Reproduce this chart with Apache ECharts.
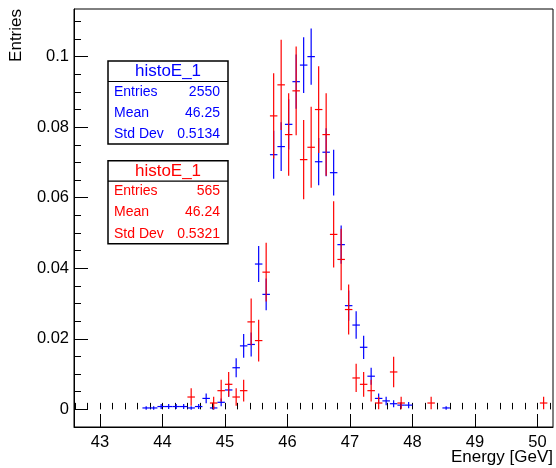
<!DOCTYPE html>
<html>
<head>
<meta charset="utf-8">
<script src="https://cdn.jsdelivr.net/npm/echarts@6/dist/echarts.min.js"></script>
<style>
html,body{margin:0;padding:0;background:#fff;}
#chart{width:556px;height:468px;}
</style>
</head>
<body>
<div id="chart"></div>
<script>
// ---- data ----
const blueE = [43.74,43.86,43.98,44.10,44.22,44.34,44.46,44.58,44.70,44.82,44.94,45.06,45.18,45.30,45.42,45.54,45.66,45.78,45.90,46.02,46.14,46.26,46.38,46.50,46.62,46.74,46.86,46.98,47.10,47.22,47.34,47.46,47.58,47.70,47.82,47.94,48.54];
const blueV = [0.0004,0.0004,0.0008,0.0008,0.0008,0.0008,0.0004,0.0008,0.0031,0.0004,0.002,0.0055,0.0118,0.018,0.0184,0.0412,0.0326,0.0722,0.0745,0.0808,0.0929,0.0976,0.1,0.0702,0.0729,0.0671,0.0467,0.0294,0.0239,0.0176,0.0094,0.0031,0.0024,0.0016,0.0012,0.0012,0.0004];
const blueErr = [0.0005,0.0005,0.0007,0.0007,0.0007,0.0007,0.0005,0.0007,0.0014,0.0005,0.0011,0.0019,0.0027,0.0034,0.0034,0.0051,0.0045,0.0068,0.0069,0.0071,0.0077,0.0079,0.008,0.0067,0.0068,0.0065,0.0054,0.0043,0.0039,0.0033,0.0024,0.0014,0.0012,0.001,0.0009,0.0009,0.0005];

const redE = [44.46,44.82,44.94,45.06,45.18,45.30,45.42,45.54,45.66,45.78,45.90,46.02,46.14,46.26,46.38,46.50,46.62,46.74,46.86,46.98,47.10,47.22,47.34,47.46,47.70,47.82,48.30,50.10];
const redV = [0.0035,0.0018,0.0053,0.0071,0.0035,0.0053,0.0248,0.0195,0.0389,0.0832,0.092,0.0779,0.0903,0.0708,0.0743,0.085,0.0779,0.0496,0.0425,0.0283,0.0089,0.0071,0.0053,0.0018,0.0106,0.0018,0.0018,0.0018];
const redErr = [0.0025,0.0018,0.0031,0.0035,0.0025,0.0031,0.0066,0.0059,0.0083,0.0121,0.0128,0.0117,0.0126,0.0112,0.0115,0.0123,0.0117,0.0094,0.0087,0.0071,0.004,0.0035,0.0031,0.0018,0.0043,0.0018,0.0018,0.0018];

const binHalfWidth = 0.06;

const xTickLabels = [43,44,45,46,47,48,49,50];
const yTickLabels = [0,0.02,0.04,0.06,0.08,0.1];

const statLabels = ['Entries','Mean','Std Dev'];
const blueStats = ['2550','46.25','0.5134'];
const redStats = ['565','46.24','0.5321'];
const histName = 'histoE_1';
const xTitle = 'Energy [GeV]';
const yTitle = 'Entries';

// ---- layout ----
const X_MIN = 42.585, X_MAX = 50.25;
const Y_MIN = -0.005, Y_MAX = 0.1135;
const FONT = '"Liberation Sans", Arial, Helvetica, sans-serif';
const BLUE = '#0000ff', RED = '#ff0000';

const xMinor = [];
for (let i = 0; i <= 38; i++) { const v = +(42.6 + i * 0.2).toFixed(2); if (v >= X_MIN && v <= X_MAX) xMinor.push(v); }
const yMinor = [];
for (let i = 0; i <= 23; i++) { const v = +(-0.005 + i * 0.005).toFixed(3); if (v >= Y_MIN && v <= Y_MAX) yMinor.push(v); }

function errSeries(name, xs, vs, es, color) {
  return {
    type: 'custom', name: name, xAxisIndex: 0, yAxisIndex: 0,
    data: xs.map((x, i) => [x, vs[i], es[i]]),
    renderItem: function (params, api) {
      const x = api.value(0), y = api.value(1), e = api.value(2);
      const pL = api.coord([x - binHalfWidth, y]);
      const pR = api.coord([x + binHalfWidth, y]);
      const pT = api.coord([x, y + e]);
      const pB = api.coord([x, Math.max(y - e, Y_MIN)]);
      const st = { stroke: color, lineWidth: 1.2 };
      return { type: 'group', children: [
        { type: 'line', shape: { x1: pT[0], y1: pT[1], x2: pB[0], y2: pB[1] }, style: st },
        { type: 'line', shape: { x1: pL[0], y1: pL[1], x2: pR[0], y2: pR[1] }, style: st }
      ]};
    },
    animation: false, silent: true
  };
}

function statBox(top, color, values) {
  const left = 108, w = 120, h = 83;
  const children = [
    { type: 'rect', shape: { x: left, y: top, width: w, height: h }, style: { fill: '#fff', stroke: '#000', lineWidth: 1.5 } },
    { type: 'line', shape: { x1: left, y1: top + 20.5, x2: left + w, y2: top + 20.5 }, style: { stroke: '#000', lineWidth: 1.2 } },
    { type: 'text', style: { x: left + w / 2, y: top + 10.8, text: histName, fill: color, font: '17px ' + FONT, textAlign: 'center', textVerticalAlign: 'middle' } }
  ];
  const rowY = [30.8, 51.7, 73];
  statLabels.forEach((lab, i) => {
    children.push({ type: 'text', style: { x: left + 6, y: top + rowY[i], text: lab, fill: color, font: '14px ' + FONT, textAlign: 'left', textVerticalAlign: 'middle' } });
    children.push({ type: 'text', style: { x: left + 112, y: top + rowY[i], text: values[i], fill: color, font: '14px ' + FONT, textAlign: 'right', textVerticalAlign: 'middle' } });
  });
  return { type: 'group', children: children, z: 100 };
}

const chart = echarts.init(document.getElementById('chart'), null, { renderer: 'canvas' });
chart.setOption({
  animation: false,
  backgroundColor: '#fff',
  grid: { left: 74, right: 3, top: 9, bottom: 41, show: true, borderColor: '#000', borderWidth: 1, backgroundColor: 'transparent' },
  xAxis: [
    { type: 'value', min: X_MIN, max: X_MAX, position: 'bottom',
      axisLine: { show: true, onZero: false, lineStyle: { color: '#000', width: 1 } },
      axisTick: { show: true, inside: true, length: 13, customValues: xTickLabels, lineStyle: { color: '#000', width: 1 } },
      axisLabel: { show: true, customValues: xTickLabels, margin: 7, color: '#000', fontSize: 16.5, fontFamily: FONT, formatter: v => String(v) },
      splitLine: { show: false } },
    { type: 'value', min: X_MIN, max: X_MAX, position: 'bottom',
      axisLine: { show: false },
      axisTick: { show: true, inside: true, length: 6.5, customValues: xMinor, lineStyle: { color: '#000', width: 1 } },
      axisLabel: { show: false }, splitLine: { show: false } }
  ],
  yAxis: [
    { type: 'value', min: Y_MIN, max: Y_MAX, position: 'left',
      axisLine: { show: true, onZero: false, lineStyle: { color: '#000', width: 1 } },
      axisTick: { show: true, inside: true, length: 14, customValues: yTickLabels, lineStyle: { color: '#000', width: 1 } },
      axisLabel: { show: true, customValues: yTickLabels, margin: 5, color: '#000', fontSize: 16.5, fontFamily: FONT, formatter: v => (v === 0 ? '0' : String(+v.toFixed(3))) },
      splitLine: { show: false } },
    { type: 'value', min: Y_MIN, max: Y_MAX, position: 'left',
      axisLine: { show: false },
      axisTick: { show: true, inside: true, length: 7, customValues: yMinor, lineStyle: { color: '#000', width: 1 } },
      axisLabel: { show: false }, splitLine: { show: false } }
  ],
  series: [
    errSeries('blue', blueE, blueV, blueErr, BLUE),
    errSeries('red', redE, redV, redErr, RED)
  ],
  graphic: [
    statBox(61, BLUE, blueStats),
    statBox(160.7, RED, redStats),
    { type: 'text', style: { x: 553, y: 457, text: xTitle, fill: '#000', font: '17px ' + FONT, textAlign: 'right', textVerticalAlign: 'middle' } },
    { type: 'text', x: 16, y: 9, rotation: Math.PI / 2, style: { x: 0, y: 0, text: yTitle, fill: '#000', font: '17px ' + FONT, textAlign: 'right', textVerticalAlign: 'middle' } }
  ]
});
</script>
</body>
</html>
